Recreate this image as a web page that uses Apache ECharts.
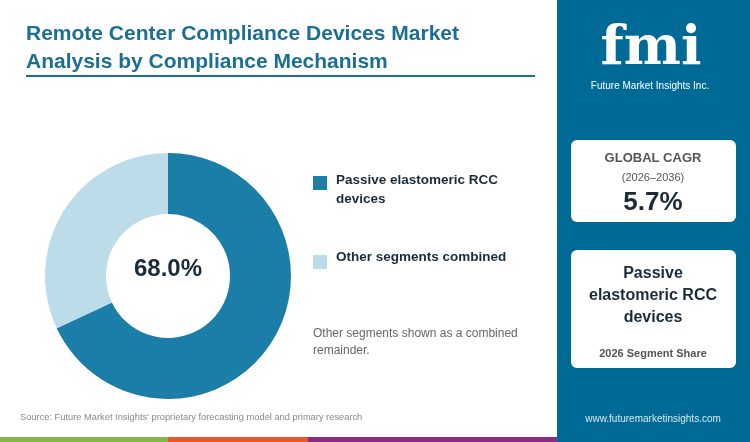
<!DOCTYPE html>
<html><head><meta charset="utf-8">
<script src="https://cdn.jsdelivr.net/npm/echarts@6/dist/echarts.min.js"></script>
<style>html,body{margin:0;padding:0;background:#fff}#c{width:750px;height:442px}</style>
</head><body><div id="c"></div>
<script>
const categories = ["Passive elastomeric RCC devices", "Other segments combined"];
const shares = [68.0, 32.0];
const cagr = "5.7%";
const colors = ["#1a7ea8", "#bddcea"];
const chart = echarts.init(document.getElementById('c'));
const F = 'Liberation Sans, Arial, sans-serif';
chart.setOption({
  animation: false,
  series: [{
    type: 'pie', center: [168, 276], radius: [62, 123], startAngle: 90, clockwise: true,
    label: {show: false}, silent: true,
    data: categories.map((n, i) => ({name: n, value: shares[i], itemStyle: {color: colors[i]}}))
  }],
  graphic: [
    {type: 'rect', shape: {x: 557, y: 0, width: 193, height: 442}, style: {fill: '#006a96'}},
    {type: 'rect', shape: {x: 0, y: 437, width: 168, height: 5}, style: {fill: '#8ab54a'}},
    {type: 'rect', shape: {x: 168, y: 437, width: 140, height: 5}, style: {fill: '#e65a2c'}},
    {type: 'rect', shape: {x: 308, y: 437, width: 249, height: 5}, style: {fill: '#8b2c86'}},
    {type: 'text', left: 26, top: 20, style: {text: 'Remote Center Compliance Devices Market\nAnalysis by Compliance Mechanism', font: 'bold 21px ' + F, fill: '#1a6f94', lineHeight: 28}},
    {type: 'rect', shape: {x: 26, y: 75, width: 509, height: 2}, style: {fill: '#1a6f94'}},
    {type: 'text', x: 168, y: 269, style: {text: shares[0].toFixed(1) + '%', font: 'bold 24px ' + F, fill: '#1c2b3a', align: 'center', verticalAlign: 'middle'}},
    {type: 'rect', shape: {x: 313, y: 176, width: 14, height: 14}, style: {fill: colors[0]}},
    {type: 'text', left: 336, top: 171, style: {text: 'Passive elastomeric RCC\ndevices', font: 'bold 13.5px ' + F, fill: '#1c2b3a', lineHeight: 19}},
    {type: 'rect', shape: {x: 313, y: 255, width: 14, height: 14}, style: {fill: colors[1]}},
    {type: 'text', left: 336, top: 250, style: {text: categories[1], font: 'bold 13.5px ' + F, fill: '#1c2b3a'}},
    {type: 'text', left: 313, top: 325, style: {text: 'Other segments shown as a combined\nremainder.', font: '12px ' + F, fill: '#666', lineHeight: 17}},
    {type: 'text', left: 20, top: 413, style: {text: "Source: Future Market Insights' proprietary forecasting model and primary research", font: '9.3px ' + F, fill: '#888'}},
    {type: 'text', x: 653, y: 419, style: {text: 'www.futuremarketinsights.com', font: '10px ' + F, fill: '#d5e8f0', align: 'center', verticalAlign: 'middle'}},
    {type: 'text', x: 651, y: 50, style: {text: 'fmi', font: 'bold 54px DejaVu Serif, serif', fill: '#fff', align: 'center', verticalAlign: 'middle'}},
    {type: 'text', x: 650, y: 86, style: {text: 'Future Market Insights Inc.', font: '10px ' + F, fill: '#fff', align: 'center', verticalAlign: 'middle'}},
    {type: 'rect', shape: {x: 571, y: 140, width: 165, height: 82, r: 6}, style: {fill: '#fff'}},
    {type: 'text', x: 653, y: 158, style: {text: 'GLOBAL CAGR', font: 'bold 13px ' + F, fill: '#555', align: 'center', verticalAlign: 'middle'}},
    {type: 'text', x: 653, y: 178, style: {text: '(2026–2036)', font: '11px ' + F, fill: '#555', align: 'center', verticalAlign: 'middle'}},
    {type: 'text', x: 653, y: 203, style: {text: cagr, font: 'bold 26px ' + F, fill: '#1c2b3a', align: 'center', verticalAlign: 'middle'}},
    {type: 'rect', shape: {x: 571, y: 250, width: 165, height: 118, r: 6}, style: {fill: '#fff'}},
    {type: 'text', x: 653, y: 296, style: {text: 'Passive\nelastomeric RCC\ndevices', font: 'bold 16px ' + F, fill: '#1c2b3a', align: 'center', verticalAlign: 'middle', lineHeight: 22}},
    {type: 'text', x: 653, y: 354, style: {text: '2026 Segment Share', font: 'bold 11px ' + F, fill: '#555', align: 'center', verticalAlign: 'middle'}}
  ]
});
</script></body></html>
